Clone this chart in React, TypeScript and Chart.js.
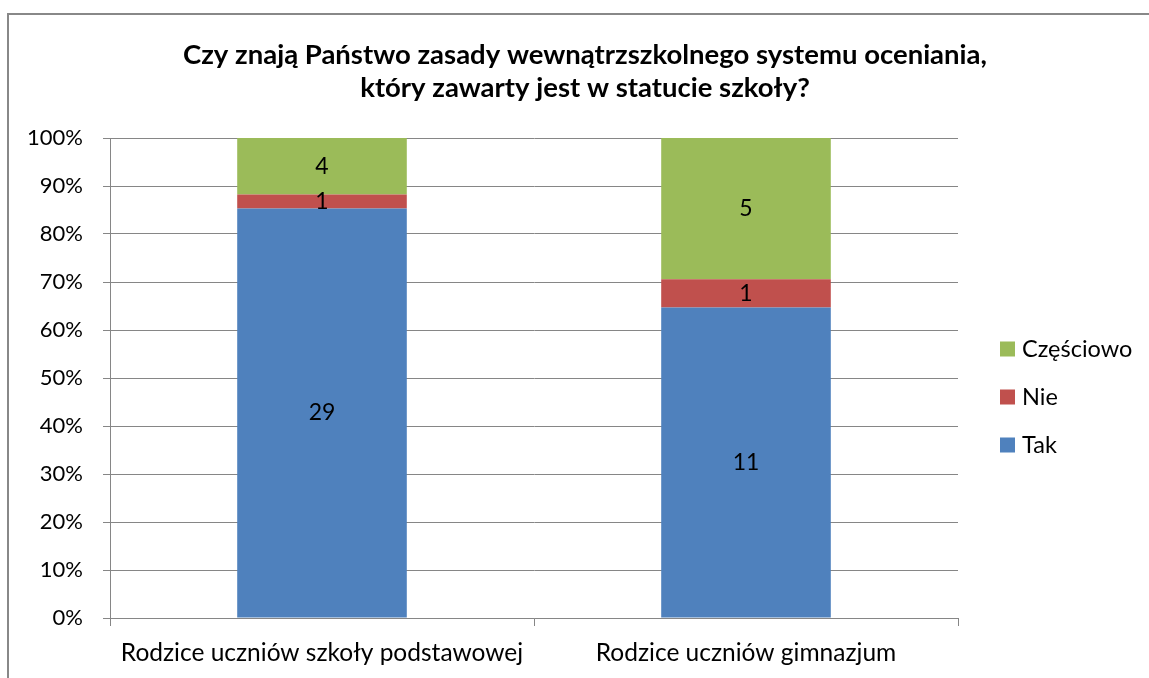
import React, { useEffect, useRef } from "react";
import { Chart, registerables } from "chart.js";

Chart.register(...registerables);

const titleLines = [
  "Czy znają Państwo zasady wewnątrzszkolnego systemu oceniania,",
  "który zawarty jest w statucie szkoły?",
];
const categories = ["Rodzice uczniów szkoły podstawowej", "Rodzice uczniów gimnazjum"];
const seriesNames = ["Tak", "Nie", "Częściowo"];
const takValues = [29, 11];
const nieValues = [1, 1];
const czesciowoValues = [4, 5];
const seriesColors = ["#4F81BD", "#C0504D", "#9BBB59"];
const yTickLabels = ["0%", "10%", "20%", "30%", "40%", "50%", "60%", "70%", "80%", "90%", "100%"];

const FONT = "Lato, 'Open Sans', sans-serif";
const GRID = "#868686";

const W = 1149;
const H = 678;

const rawSeries = [takValues, nieValues, czesciowoValues];
const totals = categories.map((_, i) => rawSeries.reduce((s, arr) => s + arr[i], 0));
const pctSeries = rawSeries.map((arr) => arr.map((v, i) => (v / totals[i]) * 100));

const overlayPlugin = {
  id: "overlay",
  beforeDraw(chart: any) {
    const ctx = chart.ctx;
    ctx.save();
    ctx.fillStyle = "#ffffff";
    ctx.fillRect(0, 0, W, H);
    ctx.fillStyle = "#888888";
    ctx.fillRect(7, 13, W, 2);
    ctx.fillRect(7, 13, 2, H);
    ctx.restore();
  },
  afterDatasetsDraw(chart: any) {
    const ctx = chart.ctx;
    ctx.save();
    ctx.font = `23px ${FONT}`;
    ctx.fillStyle = "#000000";
    ctx.textAlign = "center";
    ctx.textBaseline = "middle";
    chart.data.datasets.forEach((ds: any, di: number) => {
      const meta = chart.getDatasetMeta(di);
      meta.data.forEach((bar: any, i: number) => {
        const y = (bar.y + bar.base) / 2;
        ctx.fillText(String(rawSeries[di][i]), bar.x, y);
      });
    });
    ctx.restore();
  },
  afterDraw(chart: any) {
    const ctx = chart.ctx;
    const area = chart.chartArea;
    ctx.save();
    // title
    ctx.font = `bold 27.5px ${FONT}`;
    ctx.fillStyle = "#000000";
    ctx.textAlign = "center";
    ctx.textBaseline = "alphabetic";
    titleLines.forEach((line, i) => {
      ctx.fillText(line, 585, 64 + i * 33);
    });
    // legend (reversed order)
    ctx.font = `23.5px ${FONT}`;
    ctx.textAlign = "left";
    ctx.textBaseline = "middle";
    const n = chart.data.datasets.length;
    const boxX = area.right + 42;
    const centerY = 397;
    const step = 48;
    for (let k = 0; k < n; k++) {
      const di = n - 1 - k;
      const ds = chart.data.datasets[di];
      const cy = centerY + (k - (n - 1) / 2) * step;
      ctx.fillStyle = ds.backgroundColor;
      ctx.fillRect(boxX, cy - 7.5, 15, 15);
      ctx.fillStyle = "#000000";
      ctx.fillText(ds.label, boxX + 22, cy);
    }
    ctx.restore();
  },
};

export default function App() {
  const ref = useRef<HTMLCanvasElement | null>(null);

  useEffect(() => {
    if (!ref.current) return;
    const chart = new Chart(ref.current, {
      type: "bar",
      data: {
        labels: categories,
        datasets: seriesNames.map((name, i) => ({
          label: name,
          data: pctSeries[i],
          backgroundColor: seriesColors[i],
          borderWidth: 0,
          barPercentage: 0.4,
          categoryPercentage: 1,
        })),
      },
      options: {
        animation: false,
        responsive: false,
        devicePixelRatio: 1,
        layout: { padding: { top: 138, right: W - 958, left: 0, bottom: 0 } },
        plugins: {
          legend: { display: false },
          title: { display: false },
          tooltip: { enabled: false },
        },
        scales: {
          x: {
            stacked: true,
            grid: {
              display: true,
              drawOnChartArea: false,
              drawTicks: true,
              tickLength: 8,
              color: GRID,
              offset: true,
            },
            border: { display: true, color: GRID, width: 1 },
            ticks: { color: "#000", font: { family: FONT, size: 24.5 }, padding: 12, maxRotation: 0 },
            afterFit: (scale: any) => {
              scale.height = H - 618;
            },
          },
          y: {
            stacked: true,
            min: 0,
            max: 100,
            grid: { color: GRID, drawTicks: true, tickLength: 7, lineWidth: 1 },
            border: { display: true, color: GRID, width: 1 },
            ticks: {
              stepSize: 10,
              color: "#000",
              font: { family: FONT, size: 22 },
              padding: 20,
              callback: (v: any) => yTickLabels[Math.round(Number(v) / 10)],
            },
            afterFit: (scale: any) => {
              scale.width = 110;
            },
          },
        },
      },
      plugins: [overlayPlugin],
    });
    return () => chart.destroy();
  }, []);

  return (
    <div style={{ position: "absolute", left: 0, top: 0, width: W, height: H, background: "#fff" }}>
      <canvas ref={ref} width={W} height={H} style={{ display: "block", width: W, height: H }} />
    </div>
  );
}
